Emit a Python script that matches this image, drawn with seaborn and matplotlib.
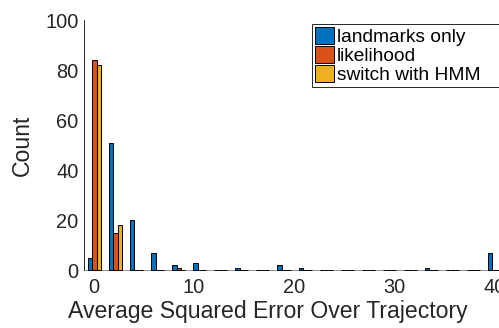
import matplotlib
matplotlib.use("Agg")
import matplotlib.pyplot as plt
import seaborn as sns
import pandas as pd

# Histogram bin centers (Average squared error over trajectory)
bin_centers = [0.1, 2.2, 4.3, 6.4, 8.5, 10.6, 12.7, 14.8, 16.9, 19.0,
               21.1, 23.2, 25.3, 27.4, 29.5, 31.6, 33.7, 35.8, 37.9, 40.0]
landmarks_only = [5, 51, 20, 7, 2, 3, 0, 1, 0, 2, 1, 0, 0, 0, 0, 0, 1, 0, 0, 7]
likelihood = [84, 15, 0, 0, 1, 0, 0, 0, 0, 0, 0, 0, 0, 0, 0, 0, 0, 0, 0, 0]
switch_hmm = [82, 18, 0, 0, 0, 0, 0, 0, 0, 0, 0, 0, 0, 0, 0, 0, 0, 0, 0, 0]
series_names = ["landmarks only", "likelihood", "switch with HMM"]
colors = ["#0072BD", "#D95319", "#EDB120"]
x_ticks = [0, 10, 20, 30, 40]
y_ticks = [0, 20, 40, 60, 80, 100]

rows = []
for name, vals in zip(series_names, [landmarks_only, likelihood, switch_hmm]):
    for c, v in zip(bin_centers, vals):
        rows.append({"center": c, "count": v, "method": name})
df = pd.DataFrame(rows)

sns.set_style("white")
plt.rcParams["font.family"] = ["Liberation Sans", "DejaVu Sans"]

fig = plt.figure(figsize=(4.99, 3.28), dpi=100)
ax = fig.add_axes([84 / 499, (328 - 270) / 328, (499 - 84) / 499, 250 / 328])

sns.barplot(data=df, x="center", y="count", hue="method", hue_order=series_names,
            palette=colors, native_scale=True, width=0.62, dodge=True,
            edgecolor="black", linewidth=0.7, errorbar=None, ax=ax, legend=True,
            saturation=1)

ax.set_xlim(-0.95, 40.45)
ax.set_ylim(0, 100)
ax.set_xticks(x_ticks)
ax.set_yticks(y_ticks)
ax.tick_params(direction="in", length=4, width=0.6, colors="#262626",
               labelsize=14.4, labelcolor="#262626", pad=4)
ax.tick_params(axis="x", pad=6)
ax.set_xlabel("Average Squared Error Over Trajectory", fontsize=16.6, color="#262626")
ax.xaxis.set_label_coords((268 - 84) / 415, -(300 - 270) / 250)
ax.xaxis.get_label().set_va("top")
ax.set_ylabel("Count", fontsize=16.6, color="#262626", labelpad=8)
for s in ["top", "right"]:
    ax.spines[s].set_visible(False)
ax.spines["left"].set_color("#262626")
ax.spines["left"].set_linewidth(0.7)
ax.spines["bottom"].set_color("#808080")
ax.spines["bottom"].set_linewidth(0.6)
ax.spines["bottom"].set_zorder(0.5)
for p in ax.patches:
    p.set_clip_on(False)

leg = ax.legend(loc="upper left",
                bbox_to_anchor=(312 / 499, 1 - 90 / 328, 187 / 499, 66 / 328),
                bbox_transform=fig.transFigure, mode="expand", fontsize=13.8,
                frameon=True, fancybox=False, edgecolor="#262626", framealpha=1,
                handlelength=1.0, handleheight=1.0, handletextpad=0.15,
                labelspacing=0.0, borderpad=0.15, borderaxespad=0)
leg.get_frame().set_linewidth(0.7)
for t in leg.get_texts():
    t.set_color("black")

fig.savefig("out.png", dpi=100)
